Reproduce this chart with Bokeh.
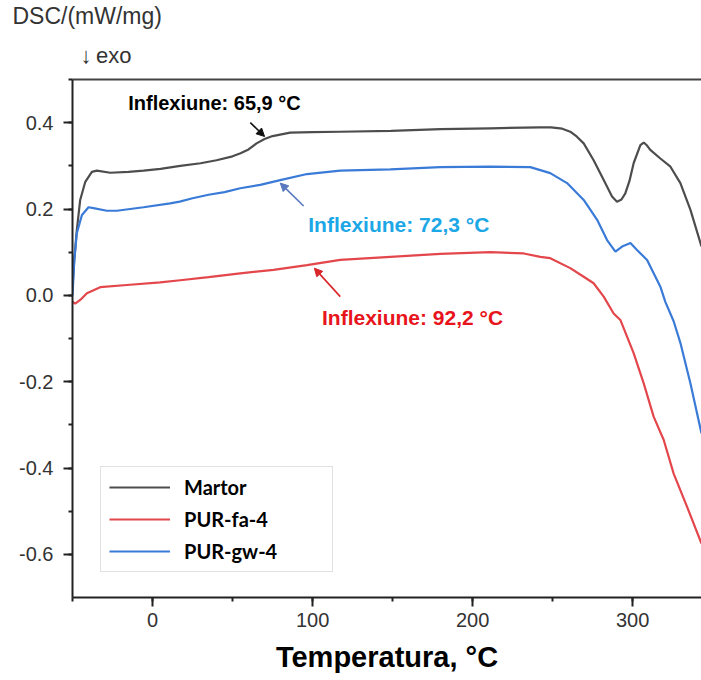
from bokeh.plotting import figure
from bokeh.models import (Range1d, LinearAxis, SingleIntervalTicker, NumeralTickFormatter,
                          FixedTicker, Label, Arrow, NormalHead, Legend, LegendItem, Title)
from bokeh.embed import file_html
from bokeh.resources import INLINE

# ---------------- data ----------------
t_martor = [-50, -48.9, -47.3, -45.2, -42, -37.9, -34.8, -26.4, -15, -5.6, 5, 17.3, 30, 40, 50, 55,
            60, 65, 70, 75, 86, 100, 117, 149, 180, 211, 242, 249, 256, 261, 265, 269.4, 275.6,
            281.9, 287.1, 290.2, 293, 295.4, 298, 300.6, 304.8, 306.9, 309, 311, 317.3, 323.6,
            329.8, 336.1, 343]
dsc_martor = [0.02, 0.082, 0.151, 0.221, 0.263, 0.286, 0.289, 0.284, 0.286, 0.289, 0.293, 0.300,
              0.306, 0.313, 0.322, 0.329, 0.338, 0.352, 0.362, 0.369, 0.377, 0.378, 0.379, 0.381,
              0.385, 0.387, 0.389, 0.389, 0.386, 0.379, 0.368, 0.352, 0.313, 0.267, 0.229, 0.217,
              0.222, 0.236, 0.265, 0.306, 0.348, 0.354, 0.347, 0.337, 0.317, 0.298, 0.260, 0.198,
              0.113]

t_gw = [-50, -48.9, -47.3, -44.1, -40, -36.9, -28.5, -22.3, -5.6, 11, 17, 25, 35, 45, 54.8, 67.3,
        79.8, 96.5, 117.3, 148.6, 179.8, 211, 236, 242.3, 248.5, 259, 269.4, 277.8, 284, 289.2,
        293.4, 298.6, 302.7, 309, 317.3, 320.4, 325.6, 329.8, 336.1, 343]
dsc_gw = [0.0, 0.08, 0.144, 0.186, 0.204, 0.202, 0.196, 0.196, 0.204, 0.213, 0.217, 0.225, 0.233,
          0.239, 0.248, 0.256, 0.267, 0.281, 0.289, 0.292, 0.297, 0.298, 0.297, 0.290, 0.283,
          0.260, 0.221, 0.175, 0.128, 0.101, 0.113, 0.121, 0.105, 0.082, 0.020, -0.015, -0.060,
          -0.110, -0.204, -0.320]

t_fa = [-50, -48.3, -45, -41, -32.7, -16, 4.8, 17.3, 35, 54.8, 75.6, 96.5, 117.3, 148.6, 179.8,
        211, 232, 242.3, 248.5, 261, 269.4, 275.6, 281.9, 288.1, 292.3, 300.6, 306.9, 313.1,
        319.4, 325.6, 334, 343]
dsc_fa = [-0.015, -0.019, -0.01, 0.005, 0.019, 0.024, 0.030, 0.035, 0.042, 0.051, 0.059, 0.070,
          0.082, 0.089, 0.096, 0.100, 0.097, 0.089, 0.086, 0.063, 0.043, 0.028, -0.003, -0.042,
          -0.057, -0.134, -0.204, -0.281, -0.335, -0.413, -0.490, -0.575]

series_names = ["Martor", "PUR-fa-4", "PUR-gw-4"]
inflexion_texts = ["Inflexiune: 65,9 °C", "Inflexiune: 72,3 °C", "Inflexiune: 92,2 °C"]
x_title = "Temperatura, °C"
y_title = "DSC/(mW/mg)"
exo_text = "↓\u2009exo"

C_BLACK = "#4d4d4d"
C_RED = "#e3464b"
C_BLUE = "#3a7bd8"

FONT = "Liberation Sans"

p = figure(width=701, height=680, output_backend="svg", toolbar_location=None, title=None,
           x_range=Range1d(-50, 343), y_range=Range1d(-0.70, 0.50),
           min_border_left=72, min_border_right=0, min_border_top=79, min_border_bottom=83,
           background_fill_color="white", border_fill_color="white")
p.outline_line_color = None
p.grid.visible = False

# axes styling
p.xaxis.ticker = SingleIntervalTicker(interval=100, num_minor_ticks=2)
p.yaxis.ticker = SingleIntervalTicker(interval=0.2, num_minor_ticks=2)
p.yaxis.formatter = NumeralTickFormatter(format="0.0")
for ax in (p.xaxis[0], p.yaxis[0]):
    ax.axis_line_width = 2
    ax.axis_line_color = "#222222"
    ax.major_tick_line_width = 2
    ax.major_tick_line_color = "#222222"
    ax.minor_tick_line_width = 2
    ax.minor_tick_line_color = "#222222"
    ax.major_tick_out = 9
    ax.major_tick_in = 0
    ax.minor_tick_out = 4
    ax.minor_tick_in = 0
    ax.major_label_text_font = FONT
    ax.major_label_text_font_size = "20px"
    ax.major_label_text_color = "#333333"
p.yaxis.major_label_standoff = 10
p.xaxis.major_label_standoff = 6
p.xaxis.axis_label = x_title
p.xaxis.axis_label_text_font = FONT
p.xaxis.axis_label_text_font_style = "bold"
p.xaxis.axis_label_text_font_size = "29px"
p.xaxis.axis_label_text_color = "#000000"
p.xaxis.axis_label_standoff = 11

top_axis = LinearAxis(ticker=FixedTicker(ticks=[]), axis_line_width=2, axis_line_color="#444444",
                      major_tick_line_color=None, minor_tick_line_color=None,
                      major_tick_out=0, minor_tick_out=0, major_label_standoff=0,
                      axis_label_standoff=0,
                      major_label_text_font_size="0px", major_label_text_alpha=0)
p.add_layout(top_axis, "above")

# texts above the frame, as titles
p.add_layout(Title(text=exo_text, align="left", offset=8, text_font=FONT,
                   text_font_size="22px", text_font_style="normal", text_color="#333333",
                   standoff=24), "above")
p.add_layout(Title(text=y_title, align="left", offset=-60, text_font=FONT,
                   text_font_size="23px", text_font_style="normal", text_color="#333333",
                   standoff=0), "above")

# curves
r_m = p.line(t_martor, dsc_martor, line_color=C_BLACK, line_width=2.2)
r_f = p.line(t_fa, dsc_fa, line_color=C_RED, line_width=2.2)
r_g = p.line(t_gw, dsc_gw, line_color=C_BLUE, line_width=2.2)

legend = Legend(items=[LegendItem(label=series_names[0], renderers=[r_m]),
                       LegendItem(label=series_names[1], renderers=[r_f]),
                       LegendItem(label=series_names[2], renderers=[r_g])],
                location=(28, 25), orientation="vertical",
                label_text_font="Lato", label_text_font_style="bold",
                label_text_font_size="20px", label_text_color="#000000",
                glyph_width=61, glyph_height=24, label_height=24, label_width=140,
                label_standoff=14, spacing=8, padding=8, margin=0,
                border_line_color="#c4c4c4", border_line_width=1.5,
                background_fill_color="white", background_fill_alpha=1)
p.add_layout(legend)

# inflexion annotations
p.add_layout(Label(x=-15.2, y=0.445, text=inflexion_texts[0], text_font=FONT,
                   text_font_style="bold", text_font_size="20px", text_color="#000000",
                   text_baseline="middle", text_align="left"))
p.add_layout(Label(x=97.3, y=0.163, text=inflexion_texts[1], text_font=FONT,
                   text_font_style="bold", text_font_size="21px", text_color="#1ca7e6",
                   text_baseline="middle", text_align="left"))
p.add_layout(Label(x=105.9, y=-0.051, text=inflexion_texts[2], text_font=FONT,
                   text_font_style="bold", text_font_size="21px", text_color="#e8141c",
                   text_baseline="middle", text_align="left"))

p.add_layout(Arrow(x_start=61.1, y_start=0.400, x_end=70.0, y_end=0.368,
                   line_color="#111111", line_width=1.6,
                   end=NormalHead(size=8, fill_color="#111111", line_color="#111111")))
p.add_layout(Arrow(x_start=94.4, y_start=0.207, x_end=79.8, y_end=0.260,
                   line_color="#5a78c0", line_width=1.6,
                   end=NormalHead(size=8, fill_color="#5a78c0", line_color="#5a78c0")))
p.add_layout(Arrow(x_start=117.3, y_start=-0.003, x_end=101.1, y_end=0.063,
                   line_color="#d8262b", line_width=1.6,
                   end=NormalHead(size=8, fill_color="#d8262b", line_color="#d8262b")))

open("out.html", "w").write(file_html(p, INLINE))
